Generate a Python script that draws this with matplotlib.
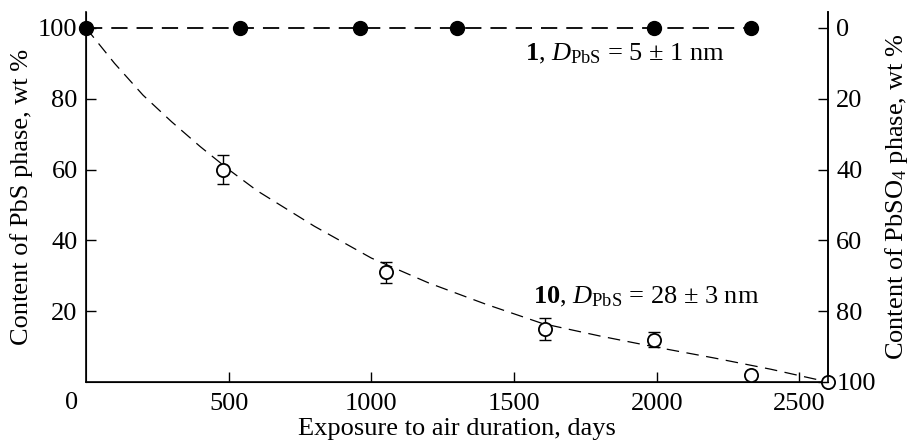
import matplotlib
matplotlib.use('Agg')
import matplotlib.pyplot as plt

plt.rcParams['font.family'] = ['Liberation Serif', 'DejaVu Serif']
plt.rcParams['font.size'] = 19
plt.rcParams['mathtext.fontset'] = 'custom'
plt.rcParams['mathtext.rm'] = 'Liberation Serif'
plt.rcParams['mathtext.it'] = 'Liberation Serif:italic'
plt.rcParams['mathtext.bf'] = 'Liberation Serif:bold'

# sample 1 (D = 5 nm): PbS content stays at 100 %
days_1 = [0, 540, 960, 1300, 1990, 2330]
pbs_1 = [100, 100, 100, 100, 100, 100]

# sample 10 (D = 28 nm)
days_10 = [0, 480, 1050, 1610, 1990, 2330, 2600]
pbs_10 = [100, 60, 31, 15, 12, 2, 0]
err_10 = [0, 4, 3, 3, 2, 0, 0]

# dashed guide curve for sample 10
fit_days = [0, 100, 200, 300, 400, 500, 600, 800, 1000, 1200, 1400, 1600,
            1800, 2000, 2200, 2400, 2600]
fit_pbs = [100, 90, 81, 73.5, 66.5, 60, 54, 44, 35, 28, 22, 16.5,
           13, 9.8, 6.8, 3.6, 0]

fig = plt.figure(figsize=(9.12, 4.42), dpi=100)
ax = fig.add_axes([86 / 912, 1 - 382 / 442, (828 - 86) / 912, (382 - 12) / 442])

ax.plot(fit_days, fit_pbs, color='k', lw=0.9, dashes=(10, 6), clip_on=False)
ax.plot(days_1, pbs_1, color='k', lw=1.3, dashes=(9, 5), marker='o', ms=10,
        mfc='k', mec='k', clip_on=False, zorder=5)

with_err = [i for i, e in enumerate(err_10) if e > 0]
ax.errorbar([days_10[i] for i in with_err], [pbs_10[i] for i in with_err],
            yerr=[err_10[i] for i in with_err], fmt='none', ecolor='k',
            elinewidth=1.0, capsize=4.5, capthick=1.0, zorder=3)
ax.plot(days_10[1:], pbs_10[1:], ls='none', marker='o', ms=9.5, mfc='white',
        mec='k', mew=1.3, clip_on=False, zorder=4)

ax.set_xlim(0, 2600)
ax.set_ylim(0, 104.5)
ax.set_xticks([500, 1000, 1500, 2000, 2500])
ax.set_yticks([20, 40, 60, 80, 100])
ax.tick_params(direction='in', length=7, width=1.0, pad=6)
ax.tick_params(axis='x', pad=8)
ax.text(-50, -0.058, '0', transform=ax.get_xaxis_transform(),
        ha='center', va='center')
ax.set_xlabel('Exposure to air duration, days', labelpad=2)
ax.set_ylabel('Content of PbS phase, wt %', labelpad=4)
ax.spines['top'].set_visible(False)
for s in ['left', 'bottom', 'right']:
    ax.spines[s].set_linewidth(1.2)

ax2 = ax.twinx()
ax2.set_ylim(100, -4.5)
ax2.set_yticks([0, 20, 40, 60, 80, 100])
ax2.tick_params(direction='in', length=7, width=1.0, pad=6)
ax2.set_ylabel(r'Content of PbSO$_4$ phase, wt %', rotation=90, labelpad=5)
ax2.spines['top'].set_visible(False)
ax2.spines['right'].set_linewidth(1.2)

ax.text(1540, 92.6, r'$\mathbf{1}$, $D_{\mathrm{PbS}}$ = 5 $\pm$ 1 nm',
        ha='left', va='center')
ax.text(1567, 24, r'$\mathbf{10}$, $D_{\mathrm{PbS}}$ = 28 $\pm$ 3 nm',
        ha='left', va='center')

fig.savefig('out.png', dpi=100)
